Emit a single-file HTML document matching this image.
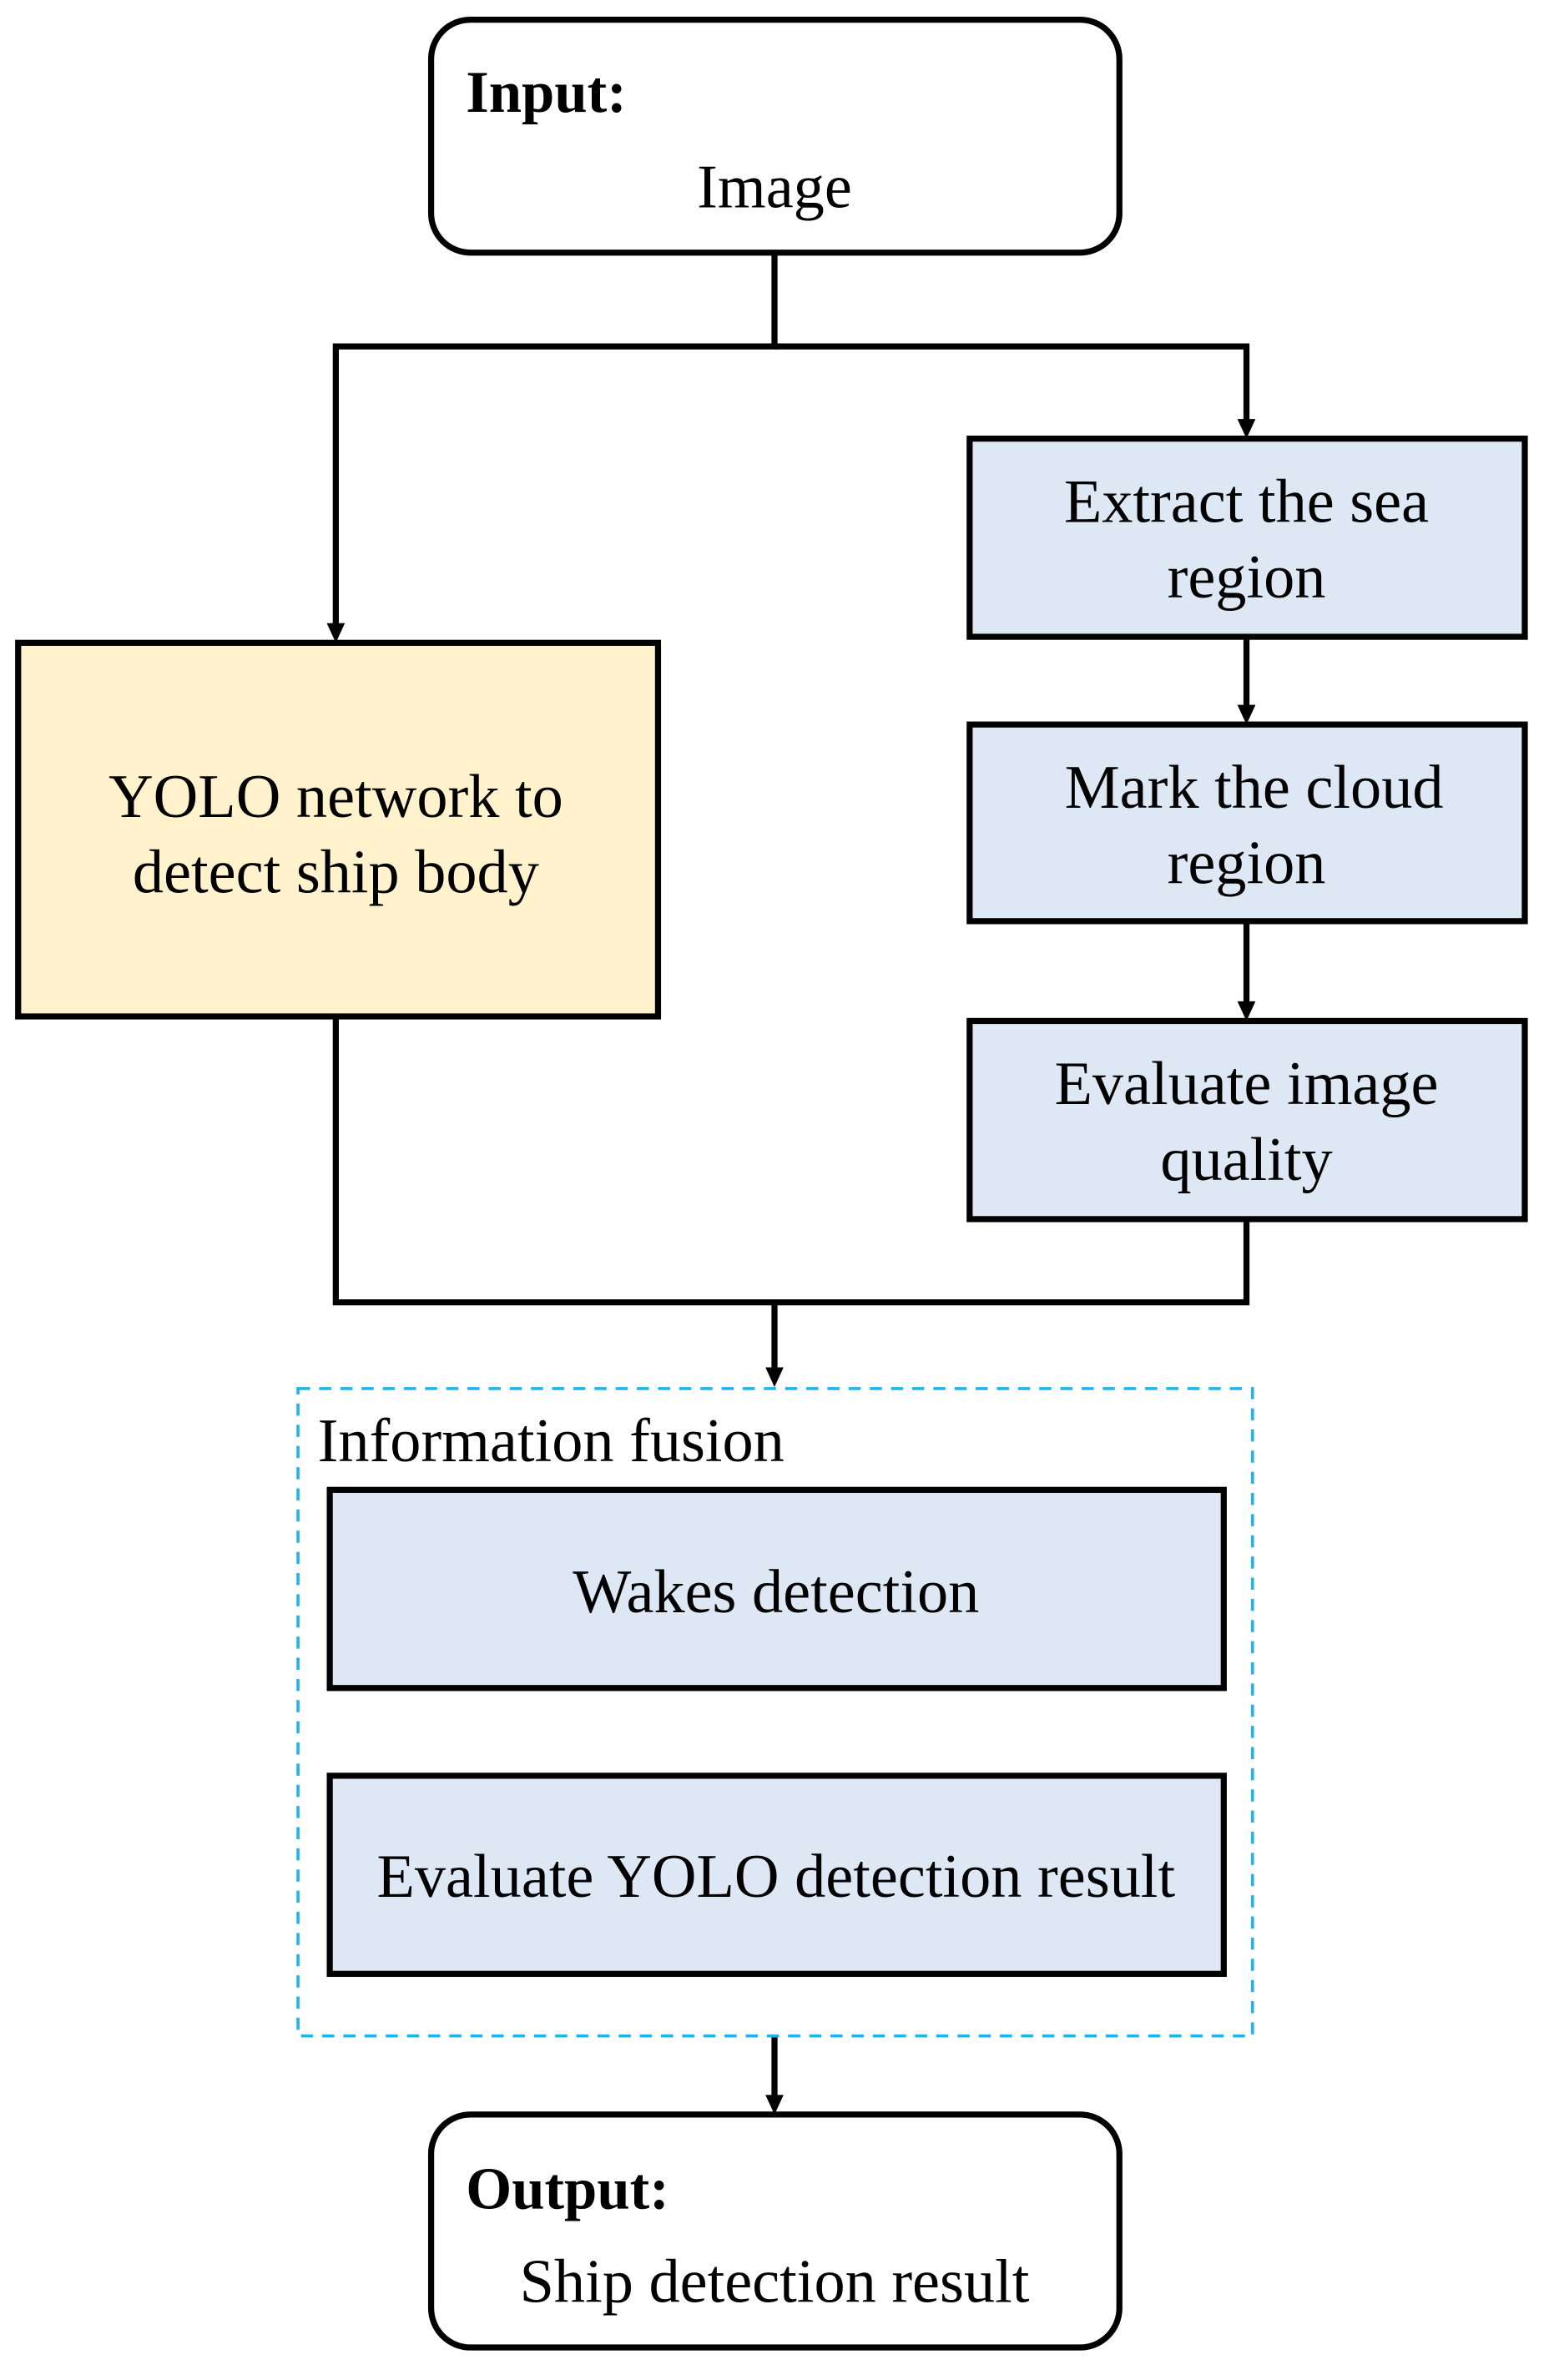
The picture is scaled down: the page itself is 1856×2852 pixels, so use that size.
<!DOCTYPE html>
<html><head><meta charset="utf-8"><style>html,body{margin:0;padding:0;background:#fff}svg{display:block}</style></head>
<body>
<svg width="1856" height="2852" viewBox="0 0 1024 1573.5" xmlns="http://www.w3.org/2000/svg" font-family="'Liberation Serif', serif" fill="#000">
<g stroke="#000" stroke-width="4" fill="none">
<rect x="285" y="13" width="455" height="154" rx="26"/>
<path d="M512,167 V229 H222 V414"/>
<path d="M512,229 H824 V279"/>
<path d="M824,421 V468"/>
<path d="M824,609 V664"/>
<path d="M222,672 V861 H824 V806"/>
<path d="M512,861 V906"/>
<path d="M512,1346 V1387"/>
<rect x="285" y="1398" width="455" height="154" rx="26"/>
</g>
<g fill="#000">
<path d="M216,412 L228,412 L222,425 Z"/>
<path d="M818,277 L830,277 L824,290 Z"/>
<path d="M818,466 L830,466 L824,479 Z"/>
<path d="M818,662 L830,662 L824,675 Z"/>
<path d="M506,904 L518,904 L512,917 Z"/>
<path d="M506,1385 L518,1385 L512,1398 Z"/>
</g>
<g stroke="#000" stroke-width="4">
<rect x="641" y="290" width="367" height="131" fill="#dee8f5"/>
<rect x="641" y="479" width="367" height="130" fill="#dee8f5"/>
<rect x="641" y="675" width="367" height="131" fill="#dee8f5"/>
<rect x="12" y="425" width="423" height="247" fill="#fff2cc"/>
<rect x="218" y="985" width="591" height="131" fill="#dee8f5"/>
<rect x="218" y="1174" width="591" height="131" fill="#dee8f5"/>
</g>
<rect x="197" y="918" width="631" height="428" fill="none" stroke="#1fb4ef" stroke-width="2" stroke-dasharray="8,6"/>
<g font-size="41">
<text x="308" y="74" font-weight="bold" font-size="39">Input:</text>
<text x="512" y="137" text-anchor="middle">Image</text>
<text x="824" y="345" text-anchor="middle">Extract the sea</text>
<text x="824" y="395" text-anchor="middle">region</text>
<text x="829" y="534" text-anchor="middle">Mark the cloud</text>
<text x="824" y="584" text-anchor="middle">region</text>
<text x="824" y="730" text-anchor="middle">Evaluate image</text>
<text x="824" y="780" text-anchor="middle">quality</text>
<text x="222" y="540" text-anchor="middle">YOLO network to</text>
<text x="222" y="590" text-anchor="middle">detect ship body</text>
<text x="210" y="966">Information fusion</text>
<text x="513" y="1066" text-anchor="middle">Wakes detection</text>
<text x="513" y="1254" text-anchor="middle">Evaluate YOLO detection result</text>
<text x="308" y="1460" font-weight="bold" font-size="39">Output:</text>
<text x="512" y="1522" text-anchor="middle">Ship detection result</text>
</g>
</svg>
</body></html>
